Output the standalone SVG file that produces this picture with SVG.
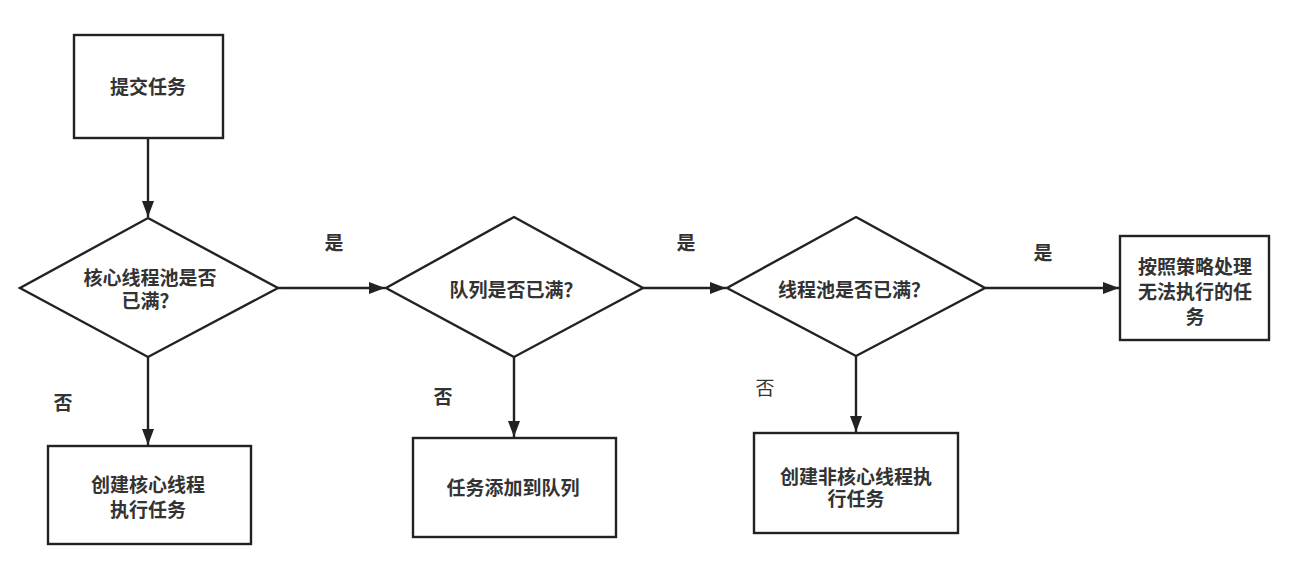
<svg xmlns="http://www.w3.org/2000/svg" width="1304" height="564" viewBox="0 0 1304 564">
<style>
.shape{fill:#ffffff;stroke:#222222;stroke-width:2.4}
.conn{fill:none;stroke:#222222;stroke-width:2.4}
text{font-family:"Liberation Sans","Noto Sans CJK SC",sans-serif;font-size:19px;font-weight:bold;fill:#333333;text-anchor:middle;dominant-baseline:central}
.thin{font-weight:normal}
</style>
<defs>
<marker id="arrow" viewBox="0 0 16 12" refX="16" refY="6" markerWidth="16" markerHeight="12" markerUnits="userSpaceOnUse" orient="auto">
<path d="M0,0 L16,6 L0,12 Z" fill="#222222"/>
</marker>
</defs>
<rect width="1304" height="564" fill="#ffffff"/>
<g id="connectors">
<line class="conn" x1="148" y1="138" x2="148" y2="217" marker-end="url(#arrow)"/>
<line class="conn" x1="278" y1="288" x2="385" y2="288" marker-end="url(#arrow)"/>
<line class="conn" x1="643" y1="288" x2="726" y2="288" marker-end="url(#arrow)"/>
<line class="conn" x1="985" y1="288" x2="1119" y2="288" marker-end="url(#arrow)"/>
<line class="conn" x1="148" y1="357" x2="148" y2="445" marker-end="url(#arrow)"/>
<line class="conn" x1="514" y1="357" x2="514" y2="437" marker-end="url(#arrow)"/>
<line class="conn" x1="856" y1="356" x2="856" y2="432" marker-end="url(#arrow)"/>
<text x="334" y="243">是</text>
<text x="686" y="243">是</text>
<text x="1043" y="253">是</text>
<text x="63" y="403">否</text>
<text x="443" y="397">否</text>
<text class="thin" x="765" y="388">否</text>
</g>
<g id="submit">
<rect class="shape" x="74" y="35" width="149" height="103"/>
<text x="148" y="87">提交任务</text>
</g>
<g id="core-full">
<polygon class="shape" points="148,218 278,288 148,357 20,288"/>
<text x="150" y="278">核心线程池是否</text>
<text x="150" y="301">已满？</text>
</g>
<g id="queue-full">
<polygon class="shape" points="514,217 643,288 514,357 386,288"/>
<text x="516" y="290">队列是否已满？</text>
</g>
<g id="pool-full">
<polygon class="shape" points="856,217 985,288 856,356 727,288"/>
<text x="854" y="290">线程池是否已满？</text>
</g>
<g id="reject">
<rect class="shape" x="1120" y="236" width="149" height="104"/>
<text x="1195" y="267">按照策略处理</text>
<text x="1195" y="292">无法执行的任</text>
<text x="1195" y="317">务</text>
</g>
<g id="create-core">
<rect class="shape" x="48" y="446" width="203" height="98"/>
<text x="148" y="485">创建核心线程</text>
<text x="148" y="510">执行任务</text>
</g>
<g id="enqueue">
<rect class="shape" x="413" y="438" width="203" height="99"/>
<text x="513" y="488">任务添加到队列</text>
</g>
<g id="create-noncore">
<rect class="shape" x="754" y="433" width="204" height="100"/>
<text x="856" y="477">创建非核心线程执</text>
<text x="856" y="499">行任务</text>
</g>
</svg>
